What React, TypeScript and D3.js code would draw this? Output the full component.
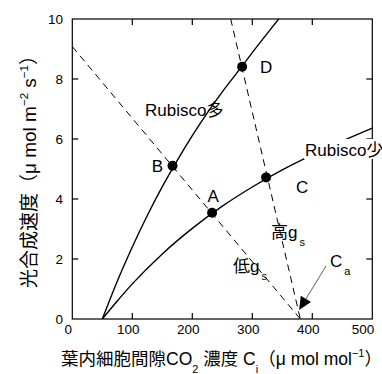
import * as d3 from "d3";

// readings: C_i (µmol/mol) vs A (µmol m-2 s-1)
const highRubiscoC = [50, 75, 100, 125, 150, 175, 200, 225, 250, 275, 300, 325, 350, 360];
const highRubiscoA = [0, 1.26, 2.4, 3.45, 4.41, 5.29, 6.11, 6.87, 7.57, 8.22, 8.88, 9.52, 10.15, 10.4];
const lowRubiscoC = [50, 75, 100, 150, 200, 250, 300, 350, 400, 450, 500];
const lowRubiscoA = [0, 0.6, 1.17, 2.17, 3.02, 3.76, 4.4, 4.97, 5.47, 5.93, 6.36];

// supply lines (stomatal conductance), both end at Ca
const lowGsC = [0, 380];
const lowGsA = [9.08, 0];
const highGsC = [264, 380];
const highGsA = [10, 0];

const pointNames = ["A", "B", "C", "D"];
const pointC = [233, 167, 323, 283];
const pointA = [3.54, 5.11, 4.72, 8.41];

const xTicks = [0, 100, 200, 300, 400, 500];
const yTicks = [0, 2, 4, 6, 8, 10];

const W = 382;
const H = 374;
const latin = "'Liberation Sans', Arial, 'Noto Sans CJK JP', sans-serif";

const App = () => {
  const x = d3.scaleLinear().domain([0, 500]).range([72.3, 372.3]);
  const y = d3.scaleLinear().domain([0, 10]).range([319, 19]);

  const line = d3
    .line<[number, number]>()
    .x((d) => x(d[0]))
    .y((d) => y(d[1]))
    .curve(d3.curveMonotoneX);
  const straight = d3
    .line<[number, number]>()
    .x((d) => x(d[0]))
    .y((d) => y(d[1]));

  const zip = (cs: number[], as: number[]) => cs.map((c, i) => [c, as[i]] as [number, number]);

  const labelOffsets: Record<string, [number, number]> = {
    A: [1, -17],
    B: [-15, 0],
    C: [36, 10],
    D: [24, 0],
  };

  // Ca arrow, in data units
  const arrowFrom: [number, number] = [423, 1.77];
  const arrowTo: [number, number] = [378, 0.3];
  const ax0 = x(arrowFrom[0]);
  const ay0 = y(arrowFrom[1]);
  const ax1 = x(arrowTo[0]);
  const ay1 = y(arrowTo[1]);
  const ang = Math.atan2(ay1 - ay0, ax1 - ax0);
  const headLen = 13;
  const headW = 6;
  const bx = ax1 - headLen * Math.cos(ang);
  const by = ay1 - headLen * Math.sin(ang);
  const head = [
    [ax1, ay1],
    [bx + headW * Math.sin(ang), by - headW * Math.cos(ang)],
    [bx - headW * Math.sin(ang), by + headW * Math.cos(ang)],
  ]
    .map((p) => p.join(","))
    .join(" ");

  const [x0, x1] = x.range();
  const [y0, y1] = y.range();

  return (
    <svg
      width={W}
      height={H}
      style={{ position: "absolute", left: 0, top: 0, background: "#fff" }}
      fontFamily={latin}
    >
      <defs>
        <clipPath id="plot">
          <rect x={x0} y={y1} width={x1 - x0} height={y0 - y1} />
        </clipPath>
      </defs>

      {/* frame + inward ticks */}
      <rect x={x0} y={y1} width={x1 - x0} height={y0 - y1} fill="none" stroke="#000" strokeWidth={1.2} />
      {xTicks.slice(1, -1).map((t) => (
        <g key={"xt" + t} stroke="#000" strokeWidth={1.2}>
          <line x1={x(t)} x2={x(t)} y1={y0} y2={y0 - 6} />
          <line x1={x(t)} x2={x(t)} y1={y1} y2={y1 + 6} />
        </g>
      ))}
      {yTicks.slice(1, -1).map((t) => (
        <g key={"yt" + t} stroke="#000" strokeWidth={1.2}>
          <line x1={x0} x2={x0 + 6} y1={y(t)} y2={y(t)} />
          <line x1={x1} x2={x1 - 6} y1={y(t)} y2={y(t)} />
        </g>
      ))}
      {xTicks.map((t, i) => (
        <text
          key={"xl" + t}
          x={i === xTicks.length - 1 ? x(t) + 2 : x(t) - 4}
          y={334}
          textAnchor={i === xTicks.length - 1 ? "end" : "middle"}
          fontSize={13.5}
        >
          {t}
        </text>
      ))}
      {yTicks.map((t) => (
        <text key={"yl" + t} x={63} y={y(t)} dy="0.35em" textAnchor="end" fontSize={13.5}>
          {t}
        </text>
      ))}

      <g clipPath="url(#plot)" fill="none">
        <path d={line(zip(highRubiscoC, highRubiscoA)) ?? ""} stroke="#000" strokeWidth={1.4} />
        <path d={line(zip(lowRubiscoC, lowRubiscoA)) ?? ""} stroke="#000" strokeWidth={1.4} />
        <path d={straight(zip(lowGsC, lowGsA)) ?? ""} stroke="#000" strokeWidth={1} strokeDasharray="7,5" />
        <path d={straight(zip(highGsC, highGsA)) ?? ""} stroke="#000" strokeWidth={1} strokeDasharray="7,5" />
      </g>

      {pointNames.map((n, i) => (
        <g key={n}>
          <circle cx={x(pointC[i])} cy={y(pointA[i])} r={5} fill="#000" />
          <text
            x={x(pointC[i]) + labelOffsets[n][0]}
            y={y(pointA[i]) + labelOffsets[n][1]}
            dy="0.35em"
            textAnchor="middle"
            fontSize={17}
          >
            {n}
          </text>
        </g>
      ))}

      <text x={145} y={116} fontSize={17}>
        Rubisco多
      </text>
      <rect x={304} y={139} width={78} height={20} fill="#fff" />
      <text x={305} y={156} fontSize={17}>
        Rubisco少
      </text>

      <text x={271} y={238} fontSize={17}>
        高g
        <tspan fontSize={11} dx={2} dy={8}>
          s
        </tspan>
      </text>
      <text x={233} y={272} fontSize={17}>
        低g
        <tspan fontSize={11} dx={2} dy={8}>
          s
        </tspan>
      </text>
      <text x={330} y={267} fontSize={17}>
        C
        <tspan fontSize={11} dx={2} dy={8}>
          a
        </tspan>
      </text>
      <line x1={ax0} y1={ay0} x2={bx} y2={by} stroke="#333" strokeWidth={0.8} />
      <polygon points={head} fill="#000" />

      {/* axis titles */}
      <text x={61} y={365} fontSize={17.5}>
        葉内細胞間隙CO
        <tspan fontSize={11} dy={8}>2</tspan>
        <tspan dy={-8}> 濃度 C</tspan>
        <tspan fontSize={11} dy={8}>i</tspan>
        <tspan dy={-8}>（μ mol mol</tspan>
        <tspan fontSize={11} dy={-8}>−1</tspan>
        <tspan dy={8}>）</tspan>
      </text>
      <text transform="translate(36,167) rotate(-90)" textAnchor="middle" fontSize={19}>
        光合成速度（μ mol m
        <tspan fontSize={11.5} dy={-8}>−2</tspan>
        <tspan dy={8}> s</tspan>
        <tspan fontSize={11.5} dy={-8}>−1</tspan>
        <tspan dy={8}>）</tspan>
      </text>
    </svg>
  );
};

export default App;
